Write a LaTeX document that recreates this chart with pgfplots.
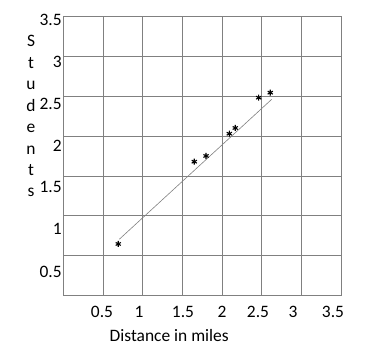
\documentclass[border=0pt]{standalone}
\usepackage{pgfplots}
\pgfplotsset{compat=1.18}
\usepackage{fontspec}
\setmainfont{Carlito}
\definecolor{gridgray}{RGB}{128,128,128}
\newcommand{\lblfont}{\fontsize{17.5}{20}\selectfont}
\begin{document}
\lblfont
\begin{tikzpicture}
\useasboundingbox (0,0) rectangle (383bp,356bp);
\begin{axis}[
  at={(63.3bp,60.3bp)}, anchor=south west,
  scale only axis, width=278bp, height=279bp,
  xmin=0, xmax=3.5, ymin=0, ymax=3.5,
  xtick={0.5,1,...,3.5}, ytick={0.5,1,...,3.5},
  xticklabels={}, yticklabels={},
  grid=major,
  major grid style={gridgray, line width=1bp},
  axis line style={gridgray, line width=1bp},
  major tick length=0pt,
  extra x ticks={0.487,0.953,1.507,1.998,2.451,2.892,3.395},
  extra x tick labels={0.5,1,1.5,2,2.5,3,3.5},
  extra y ticks={0.297,0.837,1.364,1.878,2.405,2.936,3.459},
  extra y tick labels={0.5,1,1.5,2,2.5,3,3.5},
  extra tick style={grid=none, major tick length=0pt},
  /pgf/number format/assume math mode=true,
  xticklabel style={font=\lblfont, anchor=center, yshift=-16bp},
  yticklabel style={font=\lblfont, anchor=east, inner sep=0pt, xshift=-1.5bp},
  xlabel={Distance in miles},
  xlabel style={font=\lblfont, at={(axis description cs:0.381,-0.141)}, anchor=center},
  ylabel={\begin{tabular}{@{}c@{}}S\\[1.5bp]t\\[1.5bp]u\\[1.5bp]d\\[1.5bp]e\\[1.5bp]n\\[1.5bp]t\\[1.5bp]s\end{tabular}},
  ylabel style={font=\lblfont, rotate=-90, at={(axis description cs:-0.116,0.637)}, anchor=center},
  clip=false,
]
\addplot[gray, line width=0.6bp] coordinates {(0.705,0.708) (2.624,2.464)};
\addplot[only marks, mark=asterisk, mark size=3bp, black, line width=1.1bp] coordinates {
  (0.692,0.649) (1.649,1.681) (1.797,1.753) (2.090,2.032)
  (2.165,2.104) (2.460,2.484) (2.606,2.547)
};
\end{axis}
\end{tikzpicture}
\end{document}
